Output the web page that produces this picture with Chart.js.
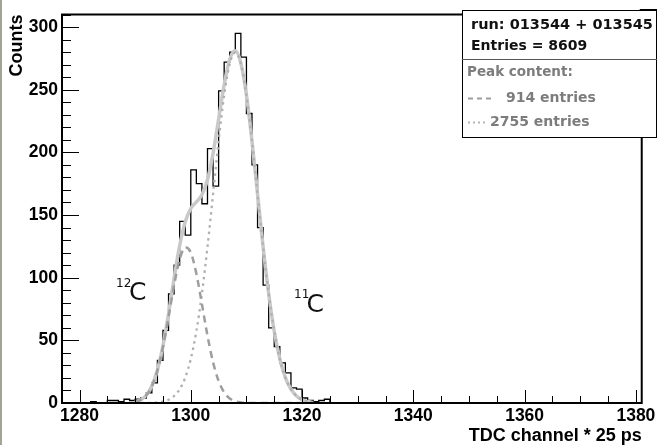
<!DOCTYPE html>
<html>
<head>
<meta charset="utf-8">
<title>TDC spectrum</title>
<script src="https://cdn.jsdelivr.net/npm/chart.js@4/dist/chart.umd.min.js"></script>
<style>
  html, body { margin: 0; padding: 0; background: #fff; }
  canvas { display: block; }
</style>
</head>
<body>
<canvas id="tdc" width="658" height="445"></canvas>
<script>
// Histogram: lower edge of each 1-channel bin and its counts
const binLowEdges = [1282, 1283, 1284, 1285, 1286, 1287, 1288, 1289, 1290, 1291,
                     1292, 1293, 1294, 1295, 1296, 1297, 1298, 1299, 1300, 1301,
                     1302, 1303, 1304, 1305, 1306, 1307, 1308, 1309, 1310, 1311,
                     1312, 1313, 1314, 1315, 1316, 1317, 1318, 1319, 1320, 1321,
                     1322, 1323, 1324];
const binCounts = [1, 0, 0, 2, 2, 1, 3, 2, 3, 4,
                   8, 16, 34, 58, 87, 110, 145, 134, 186, 175,
                   159, 203, 173, 249, 272, 280, 295, 276, 231, 190,
                   140, 94, 60, 45, 32, 24, 12, 11, 4, 2,
                   1, 2, 3];
const binWidth = 1;

// Fit: sampled values of the total and of the two peak components
const fitX = [1290, 1291, 1292, 1293, 1294, 1295, 1296, 1297, 1298, 1299,
              1300, 1301, 1302, 1303, 1304, 1305, 1306, 1307, 1308, 1309,
              1310, 1311, 1312, 1313, 1314, 1315, 1316, 1317, 1318, 1319,
              1320, 1321, 1322];
const fitTotal = [0.9, 2.5, 6.2, 13.5, 26.3, 45.8, 71.3, 99.6, 125.6, 144.6,
                  155.2, 160.4, 166.1, 178.2, 199.2, 226.5, 254.0, 274.3, 281.0, 271.2,
                  245.7, 208.9, 166.6, 124.5, 87.2, 57.2, 35.2, 20.3, 11.0, 5.6,
                  2.6, 1.2, 0.5];
const fitPeak12C = [0.9, 2.5, 6.1, 13.3, 25.8, 44.6, 68.6, 94.0, 114.6, 124.3,
                    120.0, 103.2, 78.9, 53.7, 32.6, 17.6, 8.4, 3.6, 1.4, 0.5,
                    0.1, 0, 0, 0, 0, 0, 0, 0, 0, 0,
                    0, 0, 0];
const fitPeak11C = [0.0, 0.0, 0.1, 0.2, 0.5, 1.2, 2.6, 5.6, 11.0, 20.3,
                    35.2, 57.2, 87.2, 124.5, 166.6, 208.9, 245.6, 270.7, 279.6, 270.7,
                    245.6, 208.9, 166.6, 124.5, 87.2, 57.2, 35.2, 20.3, 11.0, 5.6,
                    2.6, 1.2, 0.5];

// Axis tick labels
const xTickLabels = [1280, 1300, 1320, 1340, 1360, 1380];
const yTickLabels = [0, 50, 100, 150, 200, 250, 300];

// Statistics box text
const runLabel = 'run: 013544 + 013545';
const totalEntries = 8609;
const peakEntries = [914, 2755];   // 12C peak, 11C peak

// ---------------------------------------------------------------
const histPoints = [{ x: binLowEdges[0], y: 0 }];
binLowEdges.forEach((e, i) => histPoints.push({ x: e, y: binCounts[i] }));
const lastEdge = binLowEdges[binLowEdges.length - 1] + binWidth;
histPoints.push({ x: lastEdge, y: binCounts[binCounts.length - 1] });
histPoints.push({ x: lastEdge, y: 0 });

const toPts = (ys) => fitX.map((x, i) => ({ x, y: ys[i] }));

const AXIS_FONT = '"Liberation Sans", Arial, Helvetica, sans-serif';
const BOX_FONT = '"DejaVu Sans", sans-serif';

const decor = {
  id: 'decor',
  afterDatasetsDraw(chart) {
    const { ctx, chartArea: a, scales: { x, y } } = chart;
    ctx.save();
    ctx.strokeStyle = '#000';
    ctx.lineWidth = 1;
    ctx.beginPath();
    // x ticks: every 5 channels, long ones at the labelled values
    for (let v = 1280; v <= 1380; v += 5) {
      const px = Math.round(x.getPixelForValue(v)) + 0.5;
      const len = (v % 20 === 0) ? 13 : 7;
      ctx.moveTo(px, a.bottom);
      ctx.lineTo(px, a.bottom - len);
    }
    // y ticks: every 10 counts, long ones every 50
    for (let v = 0; v <= 310; v += 10) {
      const py = Math.round(y.getPixelForValue(v)) + 0.5;
      const len = (v % 50 === 0) ? 17 : 9;
      ctx.moveTo(a.left, py);
      ctx.lineTo(a.left + len, py);
    }
    ctx.stroke();

    // frame
    ctx.lineWidth = 2;
    ctx.strokeRect(a.left, a.top, a.right - a.left, a.bottom - a.top);

    // isotope labels
    ctx.fillStyle = '#111';
    ctx.textBaseline = 'alphabetic';
    ctx.textAlign = 'left';
    ctx.font = '12px ' + BOX_FONT;
    ctx.fillText('12', 116, 287);
    ctx.fillText('11', 294, 298);
    ctx.font = '25px ' + BOX_FONT;
    ctx.fillText('C', 129, 300);
    ctx.fillText('C', 306.5, 312);
    ctx.restore();
  },
  afterDraw(chart) {
    const { ctx, chartArea: a } = chart;
    ctx.save();
    // thin scanner edge on the far left
    ctx.fillStyle = '#a4a496';
    ctx.fillRect(0, 0, 2, 445);

    // statistics / peak-content box
    const bx = 462, by = 10, bw = 195, bh = 127;
    ctx.fillStyle = '#fff';
    ctx.fillRect(bx, by, bw, bh);
    ctx.strokeStyle = '#000';
    ctx.lineWidth = 1;
    ctx.strokeRect(bx + 0.5, by + 0.5, bw - 1, bh);
    ctx.lineWidth = 2;
    ctx.beginPath();
    ctx.moveTo(a.right - 2, by);
    ctx.lineTo(bx + bw, by);
    ctx.stroke();
    ctx.strokeStyle = '#555';
    ctx.lineWidth = 1;
    ctx.beginPath();
    ctx.moveTo(bx, 59.5);
    ctx.lineTo(bx + bw, 59.5);
    ctx.stroke();

    ctx.textBaseline = 'middle';
    ctx.textAlign = 'left';
    ctx.fillStyle = '#111';
    ctx.font = 'bold 14.5px ' + BOX_FONT;
    ctx.fillText(runLabel, 471, 25.5);
    ctx.font = 'bold 14px ' + BOX_FONT;
    ctx.fillText('Entries = ' + totalEntries, 471, 46.5);

    ctx.fillStyle = '#7c7c7c';
    ctx.font = 'bold 13.5px ' + BOX_FONT;
    ctx.fillText('Peak content:', 467, 72);
    ctx.font = 'bold 14px ' + BOX_FONT;
    ctx.fillText(peakEntries[0] + ' entries', 506, 98.5);
    ctx.fillText(peakEntries[1] + ' entries', 490, 122.5);

    ctx.lineWidth = 2;
    ctx.strokeStyle = '#9e9e9e';
    ctx.setLineDash([5, 4]);
    ctx.beginPath();
    ctx.moveTo(468, 98.5);
    ctx.lineTo(492, 98.5);
    ctx.stroke();
    ctx.strokeStyle = '#b5b5b5';
    ctx.setLineDash([2, 3]);
    ctx.beginPath();
    ctx.moveTo(468, 122.5);
    ctx.lineTo(487, 122.5);
    ctx.stroke();
    ctx.restore();
  }
};

new Chart(document.getElementById('tdc'), {
  type: 'line',
  data: {
    datasets: [
      {
        label: 'Counts',
        data: histPoints,
        stepped: true,
        borderColor: '#000',
        borderWidth: 1.3,
        pointRadius: 0,
        fill: false,
        order: 4
      },
      {
        label: 'Fit total',
        data: toPts(fitTotal),
        borderColor: '#c9c9c9',
        borderWidth: 3.5,
        cubicInterpolationMode: 'monotone',
        pointRadius: 0,
        fill: false,
        order: 3
      },
      {
        label: '11C peak',
        data: toPts(fitPeak11C),
        borderColor: '#b0b0b0',
        borderWidth: 2.3,
        borderDash: [2.5, 4],
        cubicInterpolationMode: 'monotone',
        pointRadius: 0,
        fill: false,
        order: 2
      },
      {
        label: '12C peak',
        data: toPts(fitPeak12C),
        borderColor: '#9e9e9e',
        borderWidth: 2.5,
        borderDash: [7, 5],
        cubicInterpolationMode: 'monotone',
        pointRadius: 0,
        fill: false,
        order: 1
      }
    ]
  },
  options: {
    responsive: false,
    animation: false,
    events: [],
    layout: { padding: { left: 0, top: 10, right: 15, bottom: 0 } },
    plugins: { legend: { display: false }, tooltip: { enabled: false } },
    scales: {
      x: {
        type: 'linear',
        min: 1276.85,
        max: 1381.05,
        afterBuildTicks: (s) => { s.ticks = xTickLabels.map(v => ({ value: v })); },
        afterFit: (s) => { s.height = 42; },
        grid: { display: false, drawTicks: false },
        border: { display: false },
        ticks: {
          padding: 2.5,
          maxRotation: 0,
          autoSkip: false,
          color: '#000',
          callback: (v) => String(v),
          font: { family: AXIS_FONT, size: 17.5, weight: 'bold', lineHeight: 1.2 }
        },
        title: {
          display: true,
          text: 'TDC channel * 25 ps',
          align: 'end',
          color: '#000',
          padding: { top: 0, bottom: 0 },
          font: { family: AXIS_FONT, size: 18, weight: 'bold', lineHeight: 1 }
        }
      },
      y: {
        min: 0,
        max: 310,
        afterBuildTicks: (s) => { s.ticks = yTickLabels.map(v => ({ value: v })); },
        afterFit: (s) => { s.width = 62; },
        grid: { display: false, drawTicks: false },
        border: { display: false },
        ticks: {
          padding: 4,
          color: '#000',
          callback: (v) => String(v),
          font: { family: AXIS_FONT, size: 17.5, weight: 'bold', lineHeight: 1.2 }
        },
        title: {
          display: true,
          text: 'Counts',
          align: 'end',
          color: '#000',
          padding: { top: 8, bottom: 0 },
          font: { family: AXIS_FONT, size: 18, weight: 'bold', lineHeight: 1 }
        }
      }
    }
  },
  plugins: [decor]
});
</script>
</body>
</html>
